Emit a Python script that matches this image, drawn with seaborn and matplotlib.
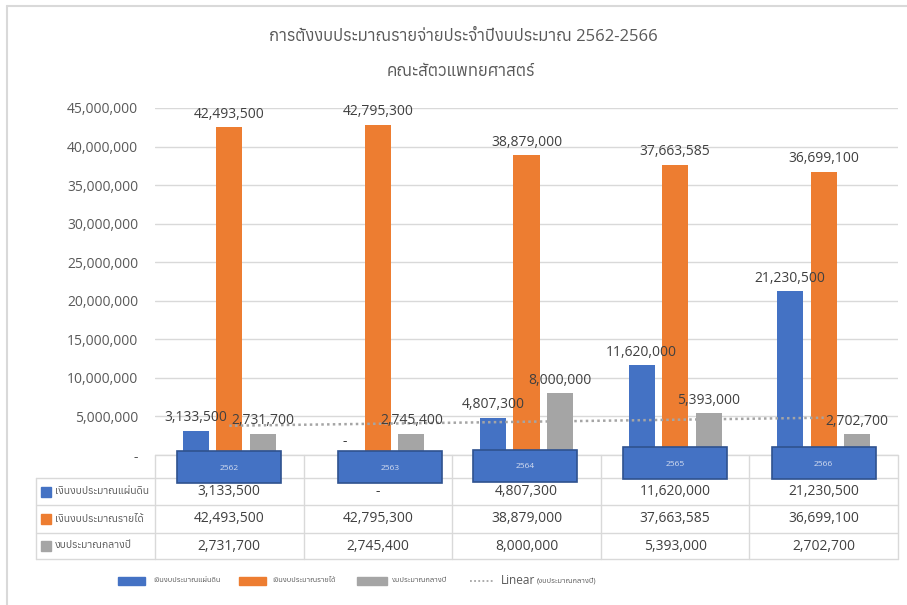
import numpy as np
import pandas as pd
import matplotlib
matplotlib.use("Agg")
import matplotlib.pyplot as plt
import seaborn as sns
from matplotlib import font_manager as fm
from matplotlib.ft2font import FT2Font
from matplotlib.patches import Rectangle
from matplotlib.lines import Line2D

# ---------------- data ----------------
years = ["2562", "2563", "2564", "2565", "2566"]
series_names = ["เงินงบประมาณแผ่นดิน", "เงินงบประมาณรายได้", "งบประมาณกลางปี"]
land_budget = [3133500, 0, 4807300, 11620000, 21230500]
income_budget = [42493500, 42795300, 38879000, 37663585, 36699100]
midyear_budget = [2731700, 2745400, 8000000, 5393000, 2702700]
y_ticks = [0, 5000000, 10000000, 15000000, 20000000, 25000000, 30000000, 35000000, 40000000, 45000000]
title = "การตั้งงบประมาณรายจ่ายประจำปีงบประมาณ 2562-2566"
subtitle = "คณะสัตวแพทยศาสตร์"
trend_word = "Linear"
trend_series = "(งบประมาณกลางปี)"
colors = ["#4472C4", "#ED7D31", "#A5A5A5"]

# ---------------- fonts ----------------
def thai_fonts():
    res = []
    for f in fm.fontManager.ttflist:
        try:
            cm = FT2Font(f.fname).get_charmap()
            if 0x0E01 in cm:
                res.append(f.name)
        except Exception:
            pass
    return sorted(set(res))

tf = thai_fonts()
thai = "Anuphan" if "Anuphan" in tf else (tf[0] if tf else "DejaVu Sans")

sns.set_theme(style="white")
num_font = "Open Sans"
plt.rcParams["font.family"] = [num_font, thai, "DejaVu Sans"]

df = pd.DataFrame({
    "year": years * 3,
    "series": sum([[s] * len(years) for s in series_names], []),
    "value": land_budget + income_budget + midyear_budget,
})

W, H = 907, 605
fig = plt.figure(figsize=(W / 100, H / 100), dpi=100)
fig.patch.set_facecolor("white")

def fx(px):
    return px / W

def fy(py):
    return 1 - py / H

ax = fig.add_axes([fx(155), fy(455), fx(898) - fx(155), fy(108) - fy(455)])
sns.barplot(data=df, x="year", y="value", hue="series", palette=colors,
            width=0.676, gap=0.22, ax=ax, legend=False, saturation=1,
            edgecolor="none", errorbar=None)
ax.set_ylim(0, 45000000)
ax.set_xlim(-0.5, len(years) - 0.5)
ax.set_yticks(y_ticks)
ax.set_yticklabels(["-" if v == 0 else f"{v:,}" for v in y_ticks],
                   fontsize=10, color="#595959")
ax.tick_params(axis="y", length=0, pad=12)
ax.set_xticks([])
ax.set_xlabel("")
ax.set_ylabel("")
for s in ax.spines.values():
    s.set_visible(False)
ax.grid(axis="y", color="#D9D9D9", lw=1)
ax.set_axisbelow(True)

for cont in ax.containers:
    ax.bar_label(cont, labels=["-" if v == 0 else f"{int(v):,}" for v in cont.datavalues],
                 padding=4, fontsize=10, color="#404040", clip_on=False)

# linear trend of mid-year budget
xs = np.arange(len(years))
k, b = np.polyfit(xs, midyear_budget, 1)
ax.plot(xs, k * xs + b, ls=(0, (1, 1.3)), color="#A5A5A5", lw=1.8)

# ---------------- outer border ----------------
fig.add_artist(Line2D([fx(7), fx(7)], [fy(6), 0], color="#D9D9D9", lw=1.5))
fig.add_artist(Line2D([fx(7), 1], [fy(6), fy(6)], color="#D9D9D9", lw=1.5))

# ---------------- title ----------------
fig.text(fx(463), fy(37), title, ha="center", va="center", fontsize=12, color="#595959")
fig.text(fx(461), fy(72), subtitle, ha="center", va="center", fontsize=12, color="#595959")

# ---------------- data table ----------------
grid_c = "#D9D9D9"
col_edges = [155 + i * (898 - 155) / len(years) for i in range(len(years) + 1)]
row_lines = [455, 478, 505, 533, 559]
for y in row_lines[1:]:
    fig.add_artist(Line2D([fx(36), fx(898)], [fy(y), fy(y)], color=grid_c, lw=1, zorder=1))
fig.add_artist(Line2D([fx(155), fx(898)], [fy(455), fy(455)], color=grid_c, lw=1, zorder=1))
fig.add_artist(Line2D([fx(36), fx(36)], [fy(478), fy(559)], color=grid_c, lw=1, zorder=1))
for x in col_edges:
    fig.add_artist(Line2D([fx(x), fx(x)], [fy(455), fy(559)], color=grid_c, lw=1, zorder=1))

table_vals = [land_budget, income_budget, midyear_budget]
for r, (name, vals, c) in enumerate(zip(series_names, table_vals, colors)):
    yc = (row_lines[r + 1] + row_lines[r + 2]) / 2
    fig.add_artist(Rectangle((fx(41), fy(yc + 5)), fx(10), fy(0) - fy(10), color=c, zorder=2))
    fig.text(fx(55), fy(yc), name, ha="left", va="center", fontsize=7.5, color="#595959")
    for i, v in enumerate(vals):
        xc = (col_edges[i] + col_edges[i + 1]) / 2
        fig.text(fx(xc), fy(yc), "-" if v == 0 else f"{v:,}", ha="center", va="center",
                 fontsize=10, color="#404040")

# category boxes (x in data coords)
box_off = [0.0, 0.08, -0.01, 0.0, 0.0]
box_top = [451, 451, 450, 447, 447]
trans = matplotlib.transforms.blended_transform_factory(ax.transData, fig.transFigure)
for i, yr in enumerate(years):
    xc = i + box_off[i]
    half = 0.35
    fig.add_artist(Rectangle((xc - half, fy(box_top[i] + 32)), 2 * half, fy(0) - fy(32),
                             facecolor="#4472C4", edgecolor="#2F528F", lw=1.2,
                             transform=trans, clip_on=False, zorder=5))
    t = fig.text(xc, fy(box_top[i] + 17), yr, transform=trans, ha="center", va="center",
                 fontsize=6, color="#D6DEF0")
    t.set_zorder(6)

# ---------------- legend ----------------
ly = 581
leg = [(118, 145, 153, colors[0], series_names[0]),
       (239, 266, 272, colors[1], series_names[1]),
       (357, 387, 392, colors[2], series_names[2])]
for x0, x1, xt, c, name in leg:
    fig.add_artist(Rectangle((fx(x0), fy(ly + 4)), fx(x1) - fx(x0), fy(0) - fy(8), color=c))
    fig.text(fx(xt), fy(ly), name, ha="left", va="center", fontsize=5.4, color="#595959")
fig.add_artist(Line2D([fx(470), fx(494)], [fy(ly), fy(ly)], ls=(0, (1, 1.3)), color="#A5A5A5", lw=1.3))
fig.text(fx(501), fy(ly), trend_word, ha="left", va="center", fontsize=8.5, color="#595959")
fig.text(fx(537), fy(ly), trend_series, ha="left", va="center", fontsize=5.4, color="#595959")

fig.savefig("out.png", dpi=100)
